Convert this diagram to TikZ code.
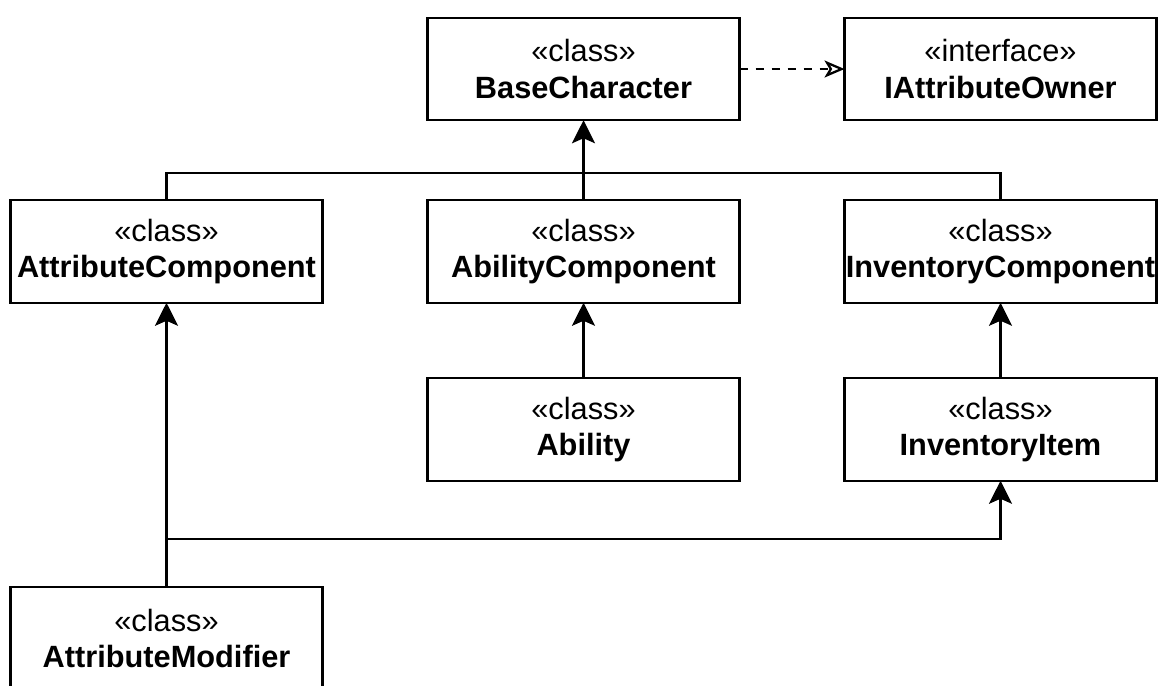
\documentclass[tikz,border=0pt]{standalone}
\usepackage{fontspec}
\setmainfont{Liberation Sans}
\usetikzlibrary{arrows.meta}

\begin{document}
\begin{tikzpicture}[
    classbox/.style={draw, line width=1.3pt, minimum width=6.24cm, minimum height=2.05cm,
        inner sep=0pt, outer sep=0pt, align=center, font=\fontsize{17.5}{21}\selectfont},
    link/.style={line width=1.3pt},
    inherit/.style={link, -{Stealth[length=0.46cm, width=0.46cm, inset=0.1cm]}},
    realize/.style={link, dash pattern=on 0.16cm off 0.16cm,
        -{Stealth[open, length=0.4cm, width=0.34cm, inset=0.1cm]}}
]
    \def\dx{3.33};
    \def\dy{0};
    \def\a{8.34};
    \useasboundingbox (0,0) rectangle (23.16,-13.70);
    \node[classbox] at (\dx+\a, \dy-1.38) (BC) {«class»\\\textbf{BaseCharacter}};
    \node[classbox] at (\dx+2*\a, \dy-1.38) (IAO) {«interface»\\\textbf{IAttributeOwner}};
    \node[classbox] at (\dx, \dy-5.03) (AtC) {«class»\\\textbf{AttributeComponent}};
    \node[classbox] at (\dx+\a, \dy-5.03) (AbC) {«class»\\\textbf{AbilityComponent}};
    \node[classbox] at (\dx+2*\a, \dy-5.03) (InC) {«class»\\\textbf{InventoryComponent}};
    \node[classbox] at (\dx+\a, \dy-8.59) (Ab) {«class»\\\textbf{Ability}};
    \node[classbox] at (\dx+2*\a, \dy-8.59) (InI) {«class»\\\textbf{InventoryItem}};
    \node[classbox] at (\dx, \dy-12.77) (AtM) {«class»\\\textbf{AttributeModifier}};
    \coordinate (J1) at (\dx+\a, \dy-3.46);
    \coordinate (J2) at (\dx, \dy-10.78);
    \draw[realize] (BC) -- (IAO);
    \draw[link] (AtC) |- (J1) -| (InC);
    \draw[inherit] (AbC) -- (BC);
    \draw[inherit] (Ab) -- (AbC);
    \draw[inherit] (InI) -- (InC);
    \draw[inherit] (AtM) -- (AtC);
    \draw[inherit] (J2) -| (InI);
\end{tikzpicture}
\end{document}
